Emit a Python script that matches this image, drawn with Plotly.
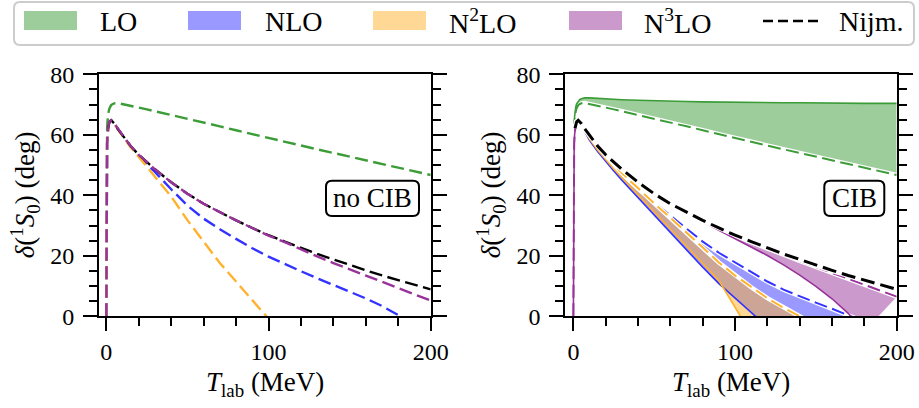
import plotly.graph_objects as go

W, H = 919, 408

# ---------------- data ----------------
T = [0, 0.05, 0.1, 0.2, 0.3, 0.5, 0.75, 1, 1.5, 2, 3, 4, 5, 7, 10, 15, 20, 25, 30, 40,
     50, 60, 70, 80, 90, 100, 110, 120, 130, 140, 150, 160, 170, 180, 190, 200]

# Nijmegen PWA (starts at 1 MeV)
nijm = [None, None, None, None, None, None, None, 62.1, 63.6, 64.3, 64.8, 64.4, 63.7, 62.0, 59.9, 56.3, 53.4, 50.9, 48.6, 44.3,
        40.5, 37.2, 34.4, 31.7, 29.2, 26.8, 24.7, 22.6, 20.6, 18.8, 16.9, 15.2, 13.5, 11.9, 10.4, 8.9]

# left panel (no CIB), dashed curves
lo_dashed = [0, 30, 40, 50, 56, 62, 64.5, 66, 67.8, 68.8, 69.8, 70.2, 70.4, 70.5, 70.2, 69.6, 69.0, 68.4, 67.8, 66.6,
             65.3, 64.0, 62.8, 61.5, 60.2, 58.9, 57.7, 56.5, 55.2, 54.0, 52.8, 51.6, 50.3, 49.1, 47.9, 46.7]
nlo_noCIB = [0, 28, 38.4, 47, 51.5, 57, 60, 62, 63.6, 64.3, 64.8, 64.4, 63.7, 62.0, 59.8, 56.1, 53.0, 50.3, 47.7, 42.0,
             36.6, 32.3, 28.8, 25.6, 22.5, 19.7, 17.2, 14.9, 12.6, 10.4, 8.2, 5.9, 3.4, 0.4, -2.6, None]
n2lo_noCIB = [0, 28, 38.4, 47, 51.5, 57, 60, 62, 63.6, 64.3, 64.8, 64.4, 63.7, 62.0, 59.7, 55.9, 52.7, 49.5, 46.3, 39.6,
              31.8, 24.5, 17.6, 11.5, 5.3, -0.8, None, None, None, None, None, None, None, None, None, None]
n3lo_noCIB = [0, 28, 38.4, 47, 51.5, 57, 60, 62, 63.6, 64.3, 64.8, 64.4, 63.7, 62.0, 59.9, 56.3, 53.4, 50.9, 48.6, 44.3,
              40.5, 37.2, 34.4, 31.7, 29.2, 26.7, 24.5, 22.1, 19.8, 17.6, 15.5, 13.4, 11.4, 9.3, 7.3, 5.2]

# right panel (CIB): solid and dashed band edges
lo_solid = [0, 35, 46, 55, 59.5, 63.5, 66, 67.5, 69.3, 70.2, 71.2, 71.7, 71.9, 72.2, 72.2, 72.0, 71.9, 71.7, 71.6, 71.4,
            71.2, 71.1, 71.0, 70.9, 70.8, 70.8, 70.7, 70.7, 70.6, 70.6, 70.5, 70.5, 70.5, 70.4, 70.4, 70.4]
nlo_solid = [0, 28, 38.4, 47, 51.5, 57, 60, 62, 63.6, 64.3, 64.8, 64.1, 63.1, 61.1, 58.2, 54.5, 51.2, 48.0, 45.0, 39.2,
             33.4, 27.6, 21.9, 16.2, 10.8, 6.0, 1.5, -3.5, None, None, None, None, None, None, None, None]
nlo_dashed = [0, 28, 38.4, 47, 51.5, 57, 60, 62, 63.6, 64.3, 64.8, 64.4, 63.6, 61.8, 59.6, 56.0, 52.9, 50.0, 47.2, 42.2,
              37.6, 33.3, 29.0, 24.7, 21.0, 17.8, 14.5, 11.5, 8.8, 6.6, 4.5, 2.5, 0.3, -1.8, None, None]
n2lo_solid = [0, 28, 38.4, 47, 51.5, 57, 60, 62, 63.6, 64.3, 64.8, 64.2, 63.3, 61.4, 58.6, 55.0, 51.8, 48.7, 45.8, 40.1,
              34.5, 28.9, 23.3, 17.6, 11.8, 3.0, -6.0, None, None, None, None, None, None, None, None, None]
n2lo_dashed = [0, 28, 38.4, 47, 51.5, 57, 60, 62, 63.6, 64.3, 64.8, 64.4, 63.6, 61.9, 59.7, 56.2, 53.1, 50.2, 47.4, 42.3,
               37.3, 32.6, 27.7, 22.6, 17.8, 13.5, 9.6, 6.0, 2.8, 0.0, -2.8, None, None, None, None, None]
n3lo_solid = [0, 28, 38.4, 47, 51.5, 57, 60, 62, 63.6, 64.3, 64.8, 64.4, 63.7, 62.0, 59.9, 56.3, 53.4, 50.9, 48.6, 44.3,
              40.5, 37.1, 34.1, 31.2, 28.4, 25.6, 22.9, 20.1, 17.0, 13.6, 9.9, 5.8, 1.0, -5.0, None, None]
n3lo_dashed = [0, 28, 38.4, 47, 51.5, 57, 60, 62, 63.6, 64.3, 64.8, 64.4, 63.7, 62.0, 59.9, 56.3, 53.4, 50.9, 48.6, 44.3,
               40.5, 37.2, 34.4, 31.7, 29.2, 26.7, 24.6, 22.4, 20.3, 18.3, 16.3, 14.4, 12.4, 10.5, 8.5, 6.5]

legend_labels = ["LO", "NLO", "N<sup>2</sup>LO", "N<sup>3</sup>LO"]
x_ticks = [0, 100, 200]
y_ticks = [0, 20, 40, 60, 80]

# ---------------- styles ----------------
C_LO = (60, 156, 56)
C_NLO = (51, 51, 255)
C_N2LO = (255, 178, 45)
C_N3LO = (153, 51, 153)


def rgb(c):
    return "rgb(%d,%d,%d)" % c


def rgba(c, a):
    return "rgba(%d,%d,%d,%s)" % (c[0], c[1], c[2], a)


FONT = "Liberation Serif"
DASH = "13px,5.5px"

fig = go.Figure()


def clean(xs, ys):
    px, py = [], []
    for a, b in zip(xs, ys):
        if b is not None:
            px.append(a)
            py.append(b)
    return px, py


def line(xs, ys, color, width, dash, xa, ya, underlay=False):
    px, py = clean(xs, ys)
    if underlay:
        fig.add_trace(go.Scatter(x=px, y=py, mode="lines", xaxis=xa, yaxis=ya,
                                 line=dict(color="white", width=width + 2.5),
                                 showlegend=False, hoverinfo="skip"))
    fig.add_trace(go.Scatter(x=px, y=py, mode="lines", xaxis=xa, yaxis=ya,
                             line=dict(color=color, width=width, dash=dash),
                             showlegend=False, hoverinfo="skip"))


def band(xs, upper, lower, color, xa, ya):
    ux, uy = clean(xs, upper)
    lx, ly = clean(xs, lower)
    fig.add_trace(go.Scatter(x=ux + lx[::-1], y=uy + ly[::-1], mode="lines", fill="toself",
                             fillcolor=rgba(color, 0.5), line=dict(width=0),
                             xaxis=xa, yaxis=ya, showlegend=False, hoverinfo="skip"))


# left panel
line(T, lo_dashed, rgb(C_LO), 2.4, DASH, "x", "y")
line(T, nlo_noCIB, rgb(C_NLO), 2.4, DASH, "x", "y")
line(T, n2lo_noCIB, rgb(C_N2LO), 2.4, DASH, "x", "y")
line(T, nijm, "black", 2.4, DASH, "x", "y")
line(T, n3lo_noCIB, rgb(C_N3LO), 2.4, DASH, "x", "y")

# right panel
band(T, lo_solid, lo_dashed, C_LO, "x2", "y2")
band(T, nlo_dashed, nlo_solid, C_NLO, "x2", "y2")
band(T, n2lo_dashed, n2lo_solid, C_N2LO, "x2", "y2")
band(T, n3lo_dashed, n3lo_solid, C_N3LO, "x2", "y2")
for solid, dashed, c in [(lo_solid, lo_dashed, C_LO), (nlo_solid, nlo_dashed, C_NLO),
                         (n2lo_solid, n2lo_dashed, C_N2LO), (n3lo_solid, n3lo_dashed, C_N3LO)]:
    line(T, dashed, rgb(c), 2.0, DASH, "x2", "y2", underlay=True)
    line(T, solid, rgb(c), 1.6, "solid", "x2", "y2")
line(T, nijm, "black", 3.0, "14px,6px", "x2", "y2", underlay=True)

# ---------------- axes ----------------
def px2x(p):
    return p / W


def px2y(p):
    return 1 - p / H


ydom = [px2y(316.3), px2y(74.3)]


def xaxis(dom, rng, anchor):
    return dict(domain=dom, range=rng, anchor=anchor, automargin=False,
                tickmode="array", tickvals=x_ticks, ticks="outside", ticklen=13, tickwidth=1.6,
                tickcolor="black", showline=True, linewidth=2, linecolor="black", mirror=True,
                showgrid=False, zeroline=False,
                tickfont=dict(family=FONT, size=24, color="black"),
                minor=dict(dtick=20, tick0=0, ticks="outside", ticklen=8, tickwidth=1.6,
                           tickcolor="black", showgrid=False))


def yaxis(anchor):
    return dict(domain=ydom, range=[0, 80], anchor=anchor, automargin=False,
                tickmode="array", tickvals=y_ticks, ticks="outside", ticklen=14, tickwidth=1.6,
                tickcolor="black", showline=True, linewidth=2, linecolor="black", mirror="allticks",
                showgrid=False, zeroline=False, ticklabelstandoff=4,
                tickfont=dict(family=FONT, size=24, color="black"),
                minor=dict(dtick=5, tick0=0, ticks="outside", ticklen=8, tickwidth=1.6,
                           tickcolor="black", showgrid=False))


fig.update_layout(
    template="none",
    width=W, height=H, margin=dict(l=0, r=0, t=0, b=0, pad=0, autoexpand=False),
    paper_bgcolor="white", plot_bgcolor="white",
    xaxis=xaxis([px2x(99), px2x(430.7)], [-4.5, 200], "y"),
    xaxis2=xaxis([px2x(565.3), px2x(896.7)], [-5, 200], "y2"),
    yaxis=yaxis("x"), yaxis2=yaxis("x2"),
    showlegend=False,
    font=dict(family=FONT, color="black", size=24),
)

annotations = []
shapes = []


def rrect(x0, y0, x1, y1, r, color, width, fill="rgba(0,0,0,0)"):
    rx, ry = r / W, r / H
    X0, X1 = px2x(x0), px2x(x1)
    Y0, Y1 = px2y(y0), px2y(y1)  # Y0 top
    path = (f"M {X0+rx},{Y0} L {X1-rx},{Y0} Q {X1},{Y0} {X1},{Y0-ry} "
            f"L {X1},{Y1+ry} Q {X1},{Y1} {X1-rx},{Y1} L {X0+rx},{Y1} Q {X0},{Y1} {X0},{Y1+ry} "
            f"L {X0},{Y0-ry} Q {X0},{Y0} {X0+rx},{Y0} Z")
    shapes.append(dict(type="path", path=path, xref="paper", yref="paper",
                       line=dict(color=color, width=width), fillcolor=fill, layer="above"))


# axis titles
xt = "<i>T</i><sub>lab</sub> (MeV)"
yt = "<i>δ</i>(<sup>1</sup><i>S</i><sub>0</sub>) (deg)"
for cx in [265, 731]:
    annotations.append(dict(text=xt, x=px2x(cx), y=px2y(384), xref="paper", yref="paper",
                            showarrow=False, xanchor="center", yanchor="middle",
                            font=dict(family=FONT, size=27, color="black")))
for cx in [25, 491]:
    annotations.append(dict(text=yt, x=px2x(cx), y=px2y(195.3), xref="paper", yref="paper",
                            showarrow=False, xanchor="center", yanchor="middle", textangle=-90,
                            font=dict(family=FONT, size=27, color="black")))

# panel labels
rrect(326, 180.7, 419, 216, 6, "black", 2, "white")
annotations.append(dict(text="no CIB", x=px2x(372.5), y=px2y(198.4), xref="paper", yref="paper",
                        showarrow=False, xanchor="center", yanchor="middle",
                        font=dict(family=FONT, size=27, color="black")))
rrect(824.3, 180.7, 884.3, 216, 6, "black", 2, "white")
annotations.append(dict(text="CIB", x=px2x(854.3), y=px2y(198.4), xref="paper", yref="paper",
                        showarrow=False, xanchor="center", yanchor="middle",
                        font=dict(family=FONT, size=27, color="black")))

# custom legend
rrect(14, 2, 914, 45, 6, "#cccccc", 2, "white")
patch_x = [24, 188, 373, 569]
text_x = [98, 263, 447, 642]
for c, px0, tx, lab in zip([C_LO, C_NLO, C_N2LO, C_N3LO], patch_x, text_x, legend_labels):
    shapes.append(dict(type="rect", xref="paper", yref="paper", x0=px2x(px0), x1=px2x(px0 + 53),
                       y0=px2y(30), y1=px2y(11), fillcolor=rgba(c, 0.5), line=dict(width=0)))
    annotations.append(dict(text=lab, x=px2x(tx), y=px2y(21.5), xref="paper", yref="paper",
                            showarrow=False, xanchor="left", yanchor="middle",
                            font=dict(family=FONT, size=28, color="black")))
shapes.append(dict(type="line", xref="paper", yref="paper", x0=px2x(763), x1=px2x(818),
                   y0=px2y(21), y1=px2y(21), line=dict(color="black", width=2.5, dash="10px,5px")))
annotations.append(dict(text="Nijm.", x=px2x(837), y=px2y(21.5), xref="paper", yref="paper",
                        showarrow=False, xanchor="left", yanchor="middle",
                        font=dict(family=FONT, size=28, color="black")))

fig.update_layout(annotations=annotations, shapes=shapes)
fig.write_html("out.html")
